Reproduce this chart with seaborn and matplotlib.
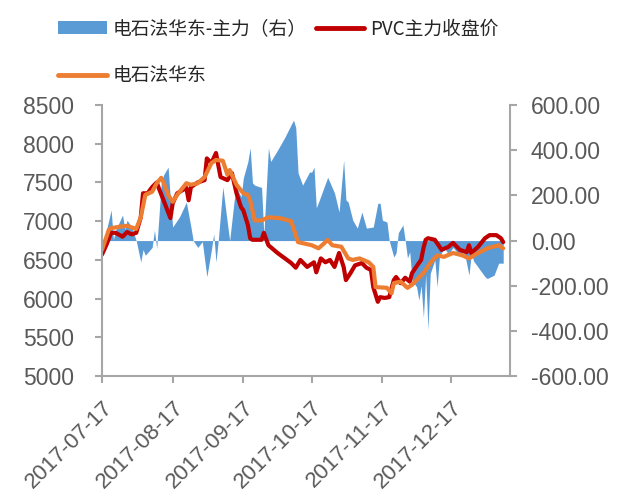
import pandas as pd
import matplotlib.pyplot as plt
import matplotlib.dates as mdates
import matplotlib.ticker as mticker
from matplotlib.patches import Patch
from matplotlib.lines import Line2D
import seaborn as sns

# PVC主力收盘价 (left axis)
pvc_dates = [
    "2017-07-17", "2017-07-19", "2017-07-21", "2017-07-23", "2017-07-26", "2017-07-28",
    "2017-07-30", "2017-08-01", "2017-08-03", "2017-08-04", "2017-08-06", "2017-08-08",
    "2017-08-10", "2017-08-11", "2017-08-13", "2017-08-16", "2017-08-17", "2017-08-19",
    "2017-08-23", "2017-08-24", "2017-08-25", "2017-08-28", "2017-08-31", "2017-09-01",
    "2017-09-03", "2017-09-05", "2017-09-07", "2017-09-10", "2017-09-12", "2017-09-14",
    "2017-09-16", "2017-09-17", "2017-09-19", "2017-09-20", "2017-09-21", "2017-09-25",
    "2017-09-26", "2017-09-28", "2017-10-02", "2017-10-08", "2017-10-10", "2017-10-12",
    "2017-10-15", "2017-10-18", "2017-10-19", "2017-10-21", "2017-10-23", "2017-10-25",
    "2017-10-27", "2017-10-29", "2017-10-31", "2017-11-01", "2017-11-03", "2017-11-05",
    "2017-11-08", "2017-11-10", "2017-11-12", "2017-11-13", "2017-11-15", "2017-11-16",
    "2017-11-18", "2017-11-20", "2017-11-22", "2017-11-23", "2017-11-25", "2017-11-27",
    "2017-11-29", "2017-11-30", "2017-12-03", "2017-12-04", "2017-12-05", "2017-12-06",
    "2017-12-07", "2017-12-10", "2017-12-13", "2017-12-16", "2017-12-18", "2017-12-21",
    "2017-12-24", "2017-12-25", "2017-12-26", "2017-12-29", "2018-01-01", "2018-01-03",
    "2018-01-06", "2018-01-08", "2018-01-09",
]
pvc_values = [
    6570, 6700, 6850, 6850, 6800, 6860,
    6830, 6850, 7050, 7360, 7360, 7440,
    7500, 7420, 7270, 7040, 7230, 7360,
    7430, 7270, 7440, 7500, 7530, 7810,
    7750, 7880, 7570, 7530, 7620, 7360,
    7180, 7140, 6950, 6780, 6760, 6760,
    6850, 6690, 6590, 6460, 6400, 6500,
    6410, 6470, 6340, 6520, 6470, 6500,
    6410, 6590, 6410, 6240, 6330, 6430,
    6460, 6400, 6370, 6150, 5960, 6020,
    6010, 6020, 6240, 6280, 6200, 6270,
    6220, 6330, 6460, 6500, 6650, 6760,
    6780, 6760, 6630, 6670, 6720, 6630,
    6600, 6690, 6590, 6670, 6780, 6820,
    6820, 6780, 6730,
]

# 电石法华东 (left axis)
east_dates = [
    "2017-07-17", "2017-07-20", "2017-07-21", "2017-07-25", "2017-07-28", "2017-08-01",
    "2017-08-03", "2017-08-05", "2017-08-08", "2017-08-10", "2017-08-12", "2017-08-13",
    "2017-08-15", "2017-08-17", "2017-08-19", "2017-08-23", "2017-08-25", "2017-08-28",
    "2017-08-31", "2017-09-03", "2017-09-05", "2017-09-08", "2017-09-10", "2017-09-11",
    "2017-09-14", "2017-09-17", "2017-09-19", "2017-09-20", "2017-09-22", "2017-09-25",
    "2017-09-28", "2017-10-03", "2017-10-08", "2017-10-11", "2017-10-17", "2017-10-20",
    "2017-10-23", "2017-10-24", "2017-10-26", "2017-10-30", "2017-11-02", "2017-11-04",
    "2017-11-07", "2017-11-11", "2017-11-13", "2017-11-14", "2017-11-19", "2017-11-21",
    "2017-11-22", "2017-11-25", "2017-11-28", "2017-11-30", "2017-12-03", "2017-12-05",
    "2017-12-08", "2017-12-11", "2017-12-14", "2017-12-18", "2017-12-22", "2017-12-25",
    "2017-12-29", "2018-01-02", "2018-01-07", "2018-01-09",
]
east_values = [
    6630, 6890, 6910, 6930, 6940, 6900,
    7050, 7340, 7380, 7490, 7560, 7500,
    7340, 7250, 7340, 7490, 7470, 7490,
    7570, 7750, 7790, 7780, 7600, 7660,
    7470, 7360, 7340, 7270, 7010, 7010,
    7050, 7040, 7000, 6730, 6690, 6650,
    6730, 6760, 6690, 6670, 6520, 6500,
    6520, 6470, 6410, 6150, 6140, 6070,
    6200, 6220, 6140, 6180, 6270, 6330,
    6460, 6560, 6540, 6590, 6560, 6520,
    6590, 6650, 6690, 6650,
]

# 电石法华东-主力 spread (right axis)
spread_dates = [
    "2017-07-17", "2017-07-21", "2017-07-22", "2017-07-23", "2017-07-26", "2017-07-27",
    "2017-07-28", "2017-07-30", "2017-08-01", "2017-08-03", "2017-08-04", "2017-08-05",
    "2017-08-08", "2017-08-09", "2017-08-10", "2017-08-12", "2017-08-13", "2017-08-15",
    "2017-08-16", "2017-08-17", "2017-08-20", "2017-08-23", "2017-08-25", "2017-08-26",
    "2017-08-28", "2017-08-30", "2017-09-01", "2017-09-03", "2017-09-04", "2017-09-05",
    "2017-09-06", "2017-09-08", "2017-09-10", "2017-09-11", "2017-09-13", "2017-09-14",
    "2017-09-16", "2017-09-17", "2017-09-19", "2017-09-20", "2017-09-21", "2017-09-22",
    "2017-09-25", "2017-09-26", "2017-09-28", "2017-09-29", "2017-10-02", "2017-10-05",
    "2017-10-09", "2017-10-10", "2017-10-11", "2017-10-13", "2017-10-16", "2017-10-17",
    "2017-10-18", "2017-10-19", "2017-10-20", "2017-10-24", "2017-10-27", "2017-10-29",
    "2017-10-31", "2017-11-01", "2017-11-02", "2017-11-04", "2017-11-06", "2017-11-08",
    "2017-11-10", "2017-11-13", "2017-11-15", "2017-11-16", "2017-11-17", "2017-11-19",
    "2017-11-20", "2017-11-22", "2017-11-23", "2017-11-24", "2017-11-26", "2017-11-27",
    "2017-11-28", "2017-11-29", "2017-11-30", "2017-12-02", "2017-12-03", "2017-12-04",
    "2017-12-05", "2017-12-06", "2017-12-07", "2017-12-08", "2017-12-10", "2017-12-11",
    "2017-12-12", "2017-12-14", "2017-12-16", "2017-12-18", "2017-12-20", "2017-12-23",
    "2017-12-25", "2017-12-26", "2017-12-27", "2018-01-01", "2018-01-02", "2018-01-05",
    "2018-01-07", "2018-01-09",
]
spread_values = [
    -40, 135, 5, 46, 113, 50,
    90, 60, 0, -95, -40, -65,
    -30, 46, -35, 255, 290, 325,
    180, 60, 105, 170, 60, 0,
    -30, -5, -160, -40, 30, -95,
    0, 237, 77, 0, 180, 235,
    193, 277, 350, 410, 255, 245,
    235, 25, 410, 350, 400, 453,
    533, 500, 300, 245, 303, 303,
    325, 145, 170, 280, 210, 126,
    356, 180, 170, 90, 55, 126,
    55, 60, 165, 165, 90, 82,
    0, -73, -55, 35, 69, 0,
    -77, -50, -175, -205, -263, -200,
    -340, -150, -395, -145, -86, -205,
    -75, -30, -60, -30, -55, -55,
    -153, -55, -90, -160, -168, -153,
    -100, -100,
]

month_ticks = ["2017-07-17", "2017-08-17", "2017-09-17", "2017-10-17", "2017-11-17", "2017-12-17"]
x_range = ["2017-07-17", "2018-01-12"]

pvc = pd.DataFrame({"date": pd.to_datetime(pvc_dates), "value": pvc_values})
east = pd.DataFrame({"date": pd.to_datetime(east_dates), "value": east_values})
spread = pd.DataFrame({"date": pd.to_datetime(spread_dates), "value": spread_values})

sns.set_theme(style="white")
plt.rcParams["font.family"] = ["Liberation Sans", "Noto Sans CJK SC", "DejaVu Sans"]

GREY = "#595959"
AXIS = "#A6A6A6"
BLUE = "#5B9BD5"
RED = "#C00000"
ORANGE = "#ED7D31"

fig = plt.figure(figsize=(6.22, 4.95), dpi=100)
ax = fig.add_axes([0.164, 0.240, 0.656, 0.548])
ax_r = ax.twinx()

# spread area on right axis, drawn behind the price lines
ax_r.fill_between(spread["date"], spread["value"], 0, color=BLUE, linewidth=0)
ax.set_zorder(ax_r.get_zorder() + 1)
ax.patch.set_visible(False)

sns.lineplot(data=pvc, x="date", y="value", color=RED, linewidth=3.0, ax=ax)
sns.lineplot(data=east, x="date", y="value", color=ORANGE, linewidth=3.0, ax=ax)

ax.set_xlim(pd.to_datetime(x_range[0]), pd.to_datetime(x_range[1]))
ax.set_ylim(5000, 8500)
ax.set_yticks(range(5000, 8501, 500))
ax_r.set_ylim(-600, 600)
ax_r.set_yticks(range(-600, 601, 200))
ax_r.yaxis.set_major_formatter(mticker.FormatStrFormatter("%.2f"))

ax.set_xticks(pd.to_datetime(month_ticks))
ax.xaxis.set_major_formatter(mdates.DateFormatter("%Y-%m-%d"))
for lbl in ax.get_xticklabels():
    lbl.set_rotation(45)
    lbl.set_ha("right")
    lbl.set_rotation_mode("anchor")

ax.set_xlabel("")
ax.set_ylabel("")

for a in (ax, ax_r):
    a.spines["top"].set_visible(False)
    for side in ("left", "right", "bottom"):
        a.spines[side].set_color(AXIS)
        a.spines[side].set_linewidth(1.5)
ax.spines["right"].set_visible(False)
ax_r.spines["left"].set_visible(False)
ax_r.spines["bottom"].set_visible(False)

ax.tick_params(axis="y", which="both", direction="out", length=5, width=1.5,
               color=AXIS, labelcolor=GREY, labelsize=16.5, pad=15, left=True)
ax.tick_params(axis="x", which="both", direction="out", length=5, width=1.5,
               color=AXIS, labelcolor=GREY, labelsize=16, pad=10, bottom=True)
ax_r.tick_params(axis="y", which="both", direction="out", length=5, width=1.5,
                 color=AXIS, labelcolor=GREY, labelsize=16.5, pad=10, right=True)

handles = [
    Patch(facecolor=BLUE, edgecolor="none"),
    Line2D([], [], color=ORANGE, linewidth=3.5),
    Line2D([], [], color=RED, linewidth=3.5),
]
labels = ["电石法华东-主力（右）", "电石法华东", "PVC主力收盘价"]
fig.legend(handles, labels, loc="upper left", bbox_to_anchor=(0.066, 0.997), ncol=2,
           frameon=False, prop={"family": ["Noto Sans CJK SC"], "size": 13.5},
           handlelength=2.6, handletextpad=0.3, columnspacing=0.5, labelspacing=1.4,
           labelcolor="#262626")

fig.savefig("out.png", dpi=100)
